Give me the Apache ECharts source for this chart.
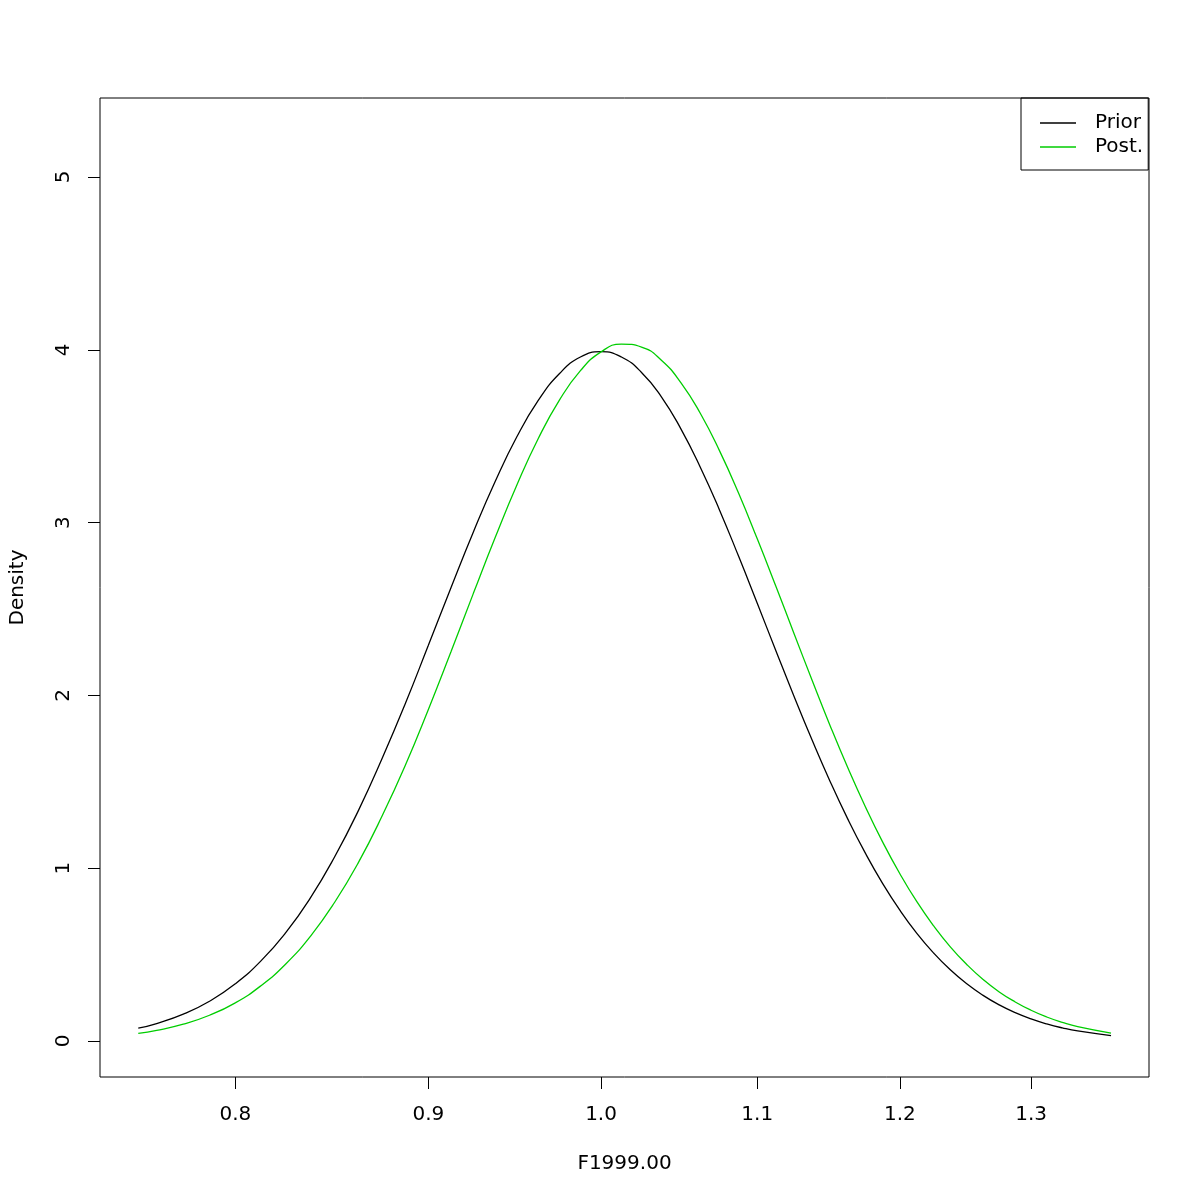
<!DOCTYPE html>
<html>
<head>
<meta charset="utf-8">
<script src="https://cdn.jsdelivr.net/npm/echarts@6/dist/echarts.min.js"></script>
<style>html,body{margin:0;padding:0;background:#fff}#c{width:1200px;height:1200px}</style>
</head>
<body>
<div id="c"></div>
<script>
var xs    = [0.754, 0.7625, 0.775, 0.7875, 0.8, 0.8125, 0.825, 0.8375, 0.85, 0.8625, 0.875, 0.8875, 0.9, 0.9125, 0.925, 0.9375, 0.95, 0.9625, 0.975, 0.9875, 1.0, 1.0125, 1.025, 1.0375, 1.05, 1.0625, 1.075, 1.0875, 1.1, 1.1125, 1.125, 1.1375, 1.15, 1.1625, 1.175, 1.1875, 1.2, 1.2125, 1.225, 1.2375, 1.25, 1.2625, 1.275, 1.2875, 1.3, 1.3125, 1.325, 1.3375, 1.365];
var prior = [0.074, 0.101, 0.155, 0.230, 0.331, 0.462, 0.627, 0.828, 1.066, 1.336, 1.636, 1.954, 2.290, 2.623, 2.944, 3.239, 3.498, 3.708, 3.863, 3.958, 3.989, 3.958, 3.869, 3.728, 3.541, 3.319, 3.072, 2.806, 2.533, 2.260, 1.994, 1.740, 1.502, 1.284, 1.087, 0.911, 0.757, 0.623, 0.509, 0.412, 0.331, 0.264, 0.209, 0.164, 0.128, 0.099, 0.076, 0.058, 0.0315];
var post  = [0.044, 0.061, 0.097, 0.149, 0.221, 0.319, 0.446, 0.606, 0.803, 1.035, 1.303, 1.597, 1.919, 2.253, 2.589, 2.915, 3.219, 3.488, 3.710, 3.879, 3.988, 4.033, 4.016, 3.940, 3.809, 3.631, 3.415, 3.171, 2.906, 2.633, 2.357, 2.086, 1.825, 1.581, 1.356, 1.151, 0.968, 0.806, 0.666, 0.545, 0.443, 0.356, 0.284, 0.226, 0.178, 0.139, 0.108, 0.083, 0.046];
var xTicks = [0.8, 0.9, 1.0, 1.1, 1.2, 1.3];
var yTicks = [0, 1, 2, 3, 4, 5];
var seriesNames = ['Prior', 'Post.'];
var xTitle = 'F1999.00';
var yTitle = 'Density';

var FONT = 'DejaVu Sans';
function pairs(ys){ return xs.map(function(x,i){ return [Math.log(x), ys[i]]; }); }

var chart = echarts.init(document.getElementById('c'), null, {renderer:'canvas'});
chart.setOption({
  animation: false,
  backgroundColor: '#fff',
  grid: {left: 98, right: 51, top: 98, bottom: 123, show: true, borderColor: '#000', borderWidth: 1, containLabel: false},
  legend: {
    orient: 'vertical', left: 1021, top: 98,
    data: [{name: seriesNames[0], icon: 'rect'}, {name: seriesNames[1], icon: 'rect'}],
    itemWidth: 36, itemHeight: 1.3, itemGap: 4,
    padding: [15, 5, 13, 19],
    borderColor: '#000', borderWidth: 1, borderRadius: 0,
    textStyle: {fontFamily: FONT, fontSize: 20, color: '#000', padding: [0, 0, 0, 14]}
  },
  xAxis: {
    type: 'value',
    min: Math.log(0.7366), max: Math.log(1.397),
    name: xTitle, nameLocation: 'middle', nameGap: 77,
    nameTextStyle: {fontFamily: FONT, fontSize: 20, color: '#000'},
    axisLine: {show: false, onZero: false},
    splitLine: {show: false},
    axisTick: {show: true, length: 12, lineStyle: {color: '#000'}, customValues: xTicks.map(Math.log)},
    axisLabel: {fontFamily: FONT, fontSize: 20, color: '#000', margin: 28,
      customValues: xTicks.map(Math.log),
      formatter: function(v){ return Math.exp(v).toFixed(1); }}
  },
  yAxis: {
    type: 'value',
    min: -0.2083, max: 5.457,
    name: yTitle, nameLocation: 'middle', nameGap: 72,
    nameTextStyle: {fontFamily: FONT, fontSize: 20, color: '#000'},
    axisLine: {show: false, onZero: false},
    splitLine: {show: false},
    axisTick: {show: true, length: 12, lineStyle: {color: '#000'}, customValues: yTicks},
    axisLabel: {fontFamily: FONT, fontSize: 20, color: '#000', margin: 26, rotate: 90,
      customValues: yTicks,
      formatter: function(v){ return String(Math.round(v)); }}
  },
  series: [
    {name: seriesNames[0], type: 'line', data: pairs(prior), showSymbol: false, smooth: true,
     lineStyle: {color: '#000', width: 1.3}, itemStyle: {color: '#000'}},
    {name: seriesNames[1], type: 'line', data: pairs(post), showSymbol: false, smooth: true,
     lineStyle: {color: '#00CD00', width: 1.3}, itemStyle: {color: '#00CD00'}}
  ]
});
</script>
</body>
</html>
